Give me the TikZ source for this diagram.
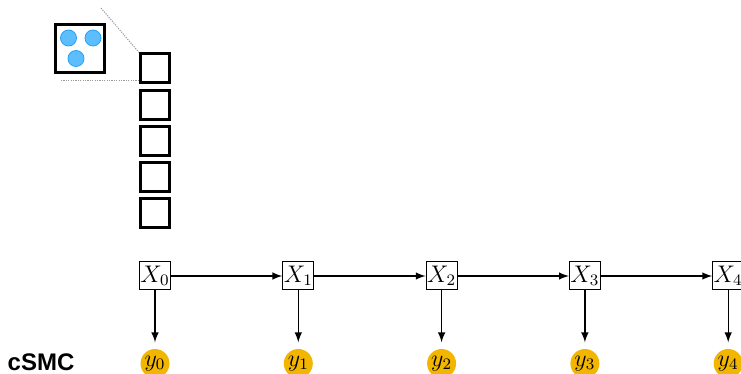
\documentclass[tikz,border=0pt]{standalone}
\usepackage{fontspec}
\newfontfamily\tagfont{Liberation Sans}
\usetikzlibrary{arrows,positioning}
\definecolor{obsyellow}{RGB}{243,182,0}
\definecolor{partfill}{RGB}{92,190,255}
\definecolor{partedge}{RGB}{38,162,242}
\tikzset{
    cell/.style={rectangle, draw, line width=1.5pt, minimum size=14.5pt, inner sep=0pt},
    bigcell/.style={cell, minimum width=24.5pt, minimum height=24pt},
    particle/.style={circle, draw=partedge, fill=partfill, line width=0.4pt, minimum size=8pt, inner sep=0pt},
    state/.style={rectangle, draw, line width=0.5pt, minimum size=14pt, inner sep=0.5pt, fill=white, font=\fontsize{11.5}{13}\selectfont},
    obs/.style={circle, fill=obsyellow, minimum size=14.5pt, inner sep=0pt, font=\fontsize{11.5}{13}\selectfont},
    zoomline/.style={gray!80, dash pattern=on 0.6pt off 0.6pt, line width=0.5pt}
}

\begin{document}
\begin{tikzpicture}[x=0.5pt, y=-0.5pt, >=latex, line width=0.7pt]
    \useasboundingbox (0,0) rectangle (741,374);

    % particle set, blown up from the first cell
    \node[bigcell] (zoom) at (80,48.5) {};
    \node[particle] (p1) at (68.5,38) {};
    \node[particle] (p2) at (93,38) {};
    \node[particle] (p3) at (76,58.5) {};

    % column of cells
    \begin{scope}[node distance=2.1pt]
        \node[cell] (s1) at (155,68.5) {};
        \node[cell, below=of s1] (s2) {};
        \node[cell, below=of s2] (s3) {};
        \node[cell, below=of s3] (s4) {};
        \node[cell, below=of s4] (s5) {};
    \end{scope}

    \coordinate (zt) at (101,8);
    \coordinate (zl) at (61,81);
    \draw[zoomline] (zt) -- (s1.north west);
    \draw[zoomline] (zl) -- (zl -| s1.west);

    % latent chain
    \node[state] (x0) at (155,276) {$X_0$};
    \node[state] (x1) at (298.3,276) {$X_1$};
    \node[state] (x2) at (441.6,276) {$X_2$};
    \node[state] (x3) at (584.9,276) {$X_3$};
    \node[state] (x4) at (728.2,276) {$X_4$};

    % observations
    \node[obs] (y0) at (155,363.5) {$y_0$};
    \node[obs] (y1) at (298.3,363.5) {$y_1$};
    \node[obs] (y2) at (441.6,363.5) {$y_2$};
    \node[obs] (y3) at (584.9,363.5) {$y_3$};
    \node[obs] (y4) at (728.2,363.5) {$y_4$};

    \draw[->] (x0) -- (x1);
    \draw[->] (x1) -- (x2);
    \draw[->] (x2) -- (x3);
    \draw[->] (x3) -- (x4);

    \begin{scope}[shorten >=3pt]
        \draw[->] (x0) -- (y0);
        \draw[->] (x1) -- (y1);
        \draw[->] (x2) -- (y2);
        \draw[->] (x3) -- (y3);
        \draw[->] (x4) -- (y4);
    \end{scope}

    \node[anchor=base west, inner sep=0pt, font=\tagfont\bfseries\fontsize{12}{14}\selectfont] (method) at (7,371) {cSMC};
\end{tikzpicture}
\end{document}
